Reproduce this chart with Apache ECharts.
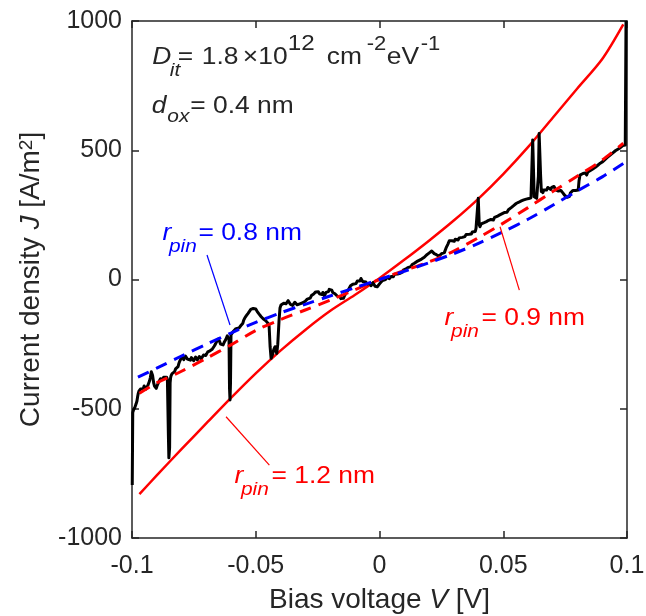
<!DOCTYPE html>
<html>
<head>
<meta charset="utf-8">
<script src="https://cdn.jsdelivr.net/npm/echarts@6/dist/echarts.min.js"></script>
<style>
  html, body { margin: 0; padding: 0; background: #ffffff; }
  #chart { width: 646px; height: 616px; }
</style>
</head>
<body>
<div id="chart"></div>
<script>
const FONT = '"Liberation Sans", Arial, Helvetica, sans-serif';
const INK = '#262626';

// axis ticks
const xTicks = [-0.1, -0.05, 0, 0.05, 0.1];
const yTicks = [-1000, -500, 0, 500, 1000];

// measured J-V trace: [bias voltage (V), current density (A/m^2)]
const measured = [
  [-0.0999,-795],[-0.0997,-515],[-0.0994,-505],[-0.0992,-500],[-0.0989,-496],[-0.0986,-492],
  [-0.0983,-480],[-0.0980,-470],[-0.0977,-452],[-0.0975,-442],[-0.0972,-432],[-0.0970,-428],
  [-0.0966,-424],[-0.0963,-420],[-0.0959,-428],[-0.0955,-424],[-0.0951,-412],[-0.0948,-415],
  [-0.0944,-424],[-0.0940,-420],[-0.0936,-410],[-0.0932,-405],[-0.0929,-392],[-0.0926,-380],
  [-0.0922,-357],[-0.0919,-362],[-0.0917,-370],[-0.0914,-390],[-0.0912,-402],[-0.0909,-412],
  [-0.0906,-418],[-0.0902,-421],[-0.0899,-412],[-0.0896,-405],[-0.0892,-396],[-0.0889,-392],
  [-0.0885,-384],[-0.0882,-382],[-0.0879,-390],[-0.0876,-386],[-0.0872,-378],[-0.0868,-380],
  [-0.0864,-372],[-0.0860,-378],[-0.0857,-386],[-0.0855,-390],[-0.0853,-600],[-0.0851,-690],
  [-0.0848,-650],[-0.0846,-400],[-0.0844,-380],[-0.0842,-372],[-0.0838,-364],[-0.0835,-368],
  [-0.0831,-360],[-0.0828,-357],[-0.0824,-346],[-0.0821,-350],[-0.0817,-340],[-0.0814,-337],
  [-0.0811,-326],[-0.0808,-318],[-0.0804,-310],[-0.0801,-305],[-0.0798,-298],[-0.0795,-302],
  [-0.0791,-310],[-0.0788,-306],[-0.0784,-296],[-0.0780,-299],[-0.0776,-308],[-0.0772,-305],
  [-0.0768,-314],[-0.0764,-312],[-0.0760,-302],[-0.0755,-305],[-0.0751,-314],[-0.0747,-311],
  [-0.0743,-300],[-0.0740,-302],[-0.0736,-311],[-0.0732,-308],[-0.0728,-298],[-0.0724,-296],
  [-0.0720,-306],[-0.0715,-301],[-0.0711,-292],[-0.0706,-299],[-0.0702,-294],[-0.0698,-290],
  [-0.0694,-280],[-0.0690,-285],[-0.0685,-276],[-0.0680,-279],[-0.0676,-270],[-0.0672,-268],
  [-0.0668,-258],[-0.0663,-250],[-0.0658,-240],[-0.0653,-234],[-0.0650,-230],[-0.0646,-240],
  [-0.0642,-250],[-0.0638,-255],[-0.0635,-246],[-0.0632,-253],[-0.0628,-244],[-0.0625,-240],
  [-0.0621,-232],[-0.0618,-228],[-0.0615,-218],[-0.0612,-221],[-0.0608,-232],[-0.0606,-420],
  [-0.0604,-466],[-0.0602,-400],[-0.0600,-215],[-0.0596,-208],[-0.0592,-202],[-0.0588,-206],
  [-0.0584,-200],[-0.0580,-190],[-0.0576,-192],[-0.0572,-196],[-0.0568,-188],[-0.0564,-182],
  [-0.0560,-178],[-0.0556,-172],[-0.0552,-169],[-0.0549,-158],[-0.0545,-150],[-0.0541,-146],
  [-0.0538,-140],[-0.0535,-134],[-0.0531,-131],[-0.0528,-124],[-0.0524,-125],[-0.0520,-116],
  [-0.0517,-118],[-0.0514,-110],[-0.0510,-112],[-0.0507,-106],[-0.0504,-111],[-0.0500,-114],
  [-0.0497,-118],[-0.0494,-124],[-0.0490,-125],[-0.0487,-133],[-0.0484,-138],[-0.0481,-140],
  [-0.0478,-144],[-0.0474,-150],[-0.0470,-152],[-0.0466,-150],[-0.0463,-157],[-0.0459,-160],
  [-0.0455,-164],[-0.0450,-170],[-0.0446,-180],[-0.0442,-260],[-0.0438,-305],[-0.0435,-298],
  [-0.0432,-290],[-0.0427,-270],[-0.0422,-260],[-0.0418,-278],[-0.0415,-286],[-0.0411,-250],
  [-0.0406,-160],[-0.0402,-110],[-0.0398,-99],[-0.0395,-104],[-0.0392,-95],[-0.0387,-92],
  [-0.0382,-86],[-0.0378,-94],[-0.0373,-90],[-0.0369,-82],[-0.0364,-88],[-0.0360,-96],
  [-0.0355,-92],[-0.0351,-100],[-0.0346,-96],[-0.0342,-88],[-0.0337,-90],[-0.0333,-98],
  [-0.0328,-100],[-0.0322,-94],[-0.0315,-99],[-0.0310,-90],[-0.0305,-92],[-0.0300,-84],
  [-0.0296,-85],[-0.0292,-76],[-0.0288,-79],[-0.0284,-70],[-0.0280,-72],[-0.0275,-62],
  [-0.0271,-66],[-0.0266,-56],[-0.0262,-58],[-0.0258,-48],[-0.0254,-52],[-0.0250,-44],
  [-0.0247,-47],[-0.0243,-55],[-0.0240,-51],[-0.0236,-60],[-0.0232,-58],[-0.0229,-50],
  [-0.0226,-55],[-0.0223,-64],[-0.0220,-60],[-0.0216,-50],[-0.0213,-52],[-0.0209,-44],
  [-0.0206,-47],[-0.0203,-38],[-0.0200,-44],[-0.0196,-36],[-0.0193,-41],[-0.0189,-50],
  [-0.0186,-47],[-0.0183,-56],[-0.0180,-55],[-0.0176,-62],[-0.0172,-58],[-0.0169,-66],
  [-0.0166,-60],[-0.0163,-70],[-0.0160,-66],[-0.0156,-74],[-0.0153,-70],[-0.0150,-78],
  [-0.0146,-73],[-0.0142,-64],[-0.0138,-58],[-0.0134,-50],[-0.0130,-44],[-0.0126,-40],
  [-0.0121,-36],[-0.0117,-24],[-0.0112,-28],[-0.0108,-18],[-0.0104,-22],[-0.0100,-12],
  [-0.0095,-16],[-0.0090,-6],[-0.0086,-10],[-0.0082,-2],[-0.0079,-6],[-0.0075,4],
  [-0.0072,-2],[-0.0068,-8],[-0.0064,-5],[-0.0060,-14],[-0.0055,-10],[-0.0050,-18],
  [-0.0046,-12],[-0.0042,-20],[-0.0038,-15],[-0.0034,-24],[-0.0030,-19],[-0.0026,-12],
  [-0.0022,-17],[-0.0018,-26],[-0.0013,-22],[-0.0009,-28],[-0.0005,-21],[0.0004,-12],
  [0.0008,-6],[0.0012,-4],[0.0016,-8],[0.0020,3],[0.0024,0],[0.0028,8],
  [0.0032,4],[0.0036,11],[0.0040,3],[0.0044,6],[0.0047,12],[0.0050,9],
  [0.0053,15],[0.0056,11],[0.0060,20],[0.0064,18],[0.0068,14],[0.0073,21],
  [0.0078,27],[0.0083,24],[0.0087,31],[0.0092,28],[0.0096,36],[0.0101,33],
  [0.0105,40],[0.0110,37],[0.0114,46],[0.0118,44],[0.0122,52],[0.0127,50],
  [0.0132,58],[0.0137,56],[0.0141,63],[0.0146,60],[0.0150,69],[0.0155,66],
  [0.0160,74],[0.0164,70],[0.0170,79],[0.0177,75],[0.0181,86],[0.0186,84],
  [0.0190,95],[0.0195,92],[0.0200,102],[0.0205,99],[0.0211,110],[0.0217,108],
  [0.0221,100],[0.0226,104],[0.0230,96],[0.0235,98],[0.0240,90],[0.0245,93],
  [0.0251,100],[0.0258,95],[0.0262,104],[0.0265,110],[0.0269,122],[0.0272,128],
  [0.0276,136],[0.0279,140],[0.0282,150],[0.0285,146],[0.0289,154],[0.0293,150],
  [0.0297,144],[0.0302,148],[0.0306,156],[0.0310,151],[0.0314,158],[0.0318,153],
  [0.0322,161],[0.0326,158],[0.0330,166],[0.0335,163],[0.0340,170],[0.0345,166],
  [0.0350,174],[0.0354,170],[0.0358,178],[0.0362,175],[0.0366,181],[0.0371,176],
  [0.0375,184],[0.0379,179],[0.0383,190],[0.0387,186],[0.0390,198],[0.0393,196],
  [0.0397,200],[0.0399,314],[0.0401,310],[0.0403,212],[0.0406,204],[0.0408,208],
  [0.0411,215],[0.0413,210],[0.0416,218],[0.0419,211],[0.0423,220],[0.0428,216],
  [0.0432,224],[0.0437,220],[0.0441,229],[0.0446,224],[0.0450,232],[0.0454,227],
  [0.0457,236],[0.0460,230],[0.0465,240],[0.0470,235],[0.0475,244],[0.0480,240],
  [0.0484,249],[0.0487,243],[0.0494,254],[0.0500,250],[0.0504,259],[0.0507,256],
  [0.0511,265],[0.0515,260],[0.0521,270],[0.0527,266],[0.0532,278],[0.0537,275],
  [0.0542,286],[0.0547,283],[0.0552,294],[0.0558,290],[0.0563,299],[0.0568,295],
  [0.0573,304],[0.0578,300],[0.0583,308],[0.0588,303],[0.0593,311],[0.0598,305],
  [0.0603,313],[0.0608,308],[0.0612,316],[0.0615,312],[0.0619,540],[0.0622,546],
  [0.0625,320],[0.0628,316],[0.0632,318],[0.0635,314],[0.0638,320],[0.0642,400],
  [0.0645,565],[0.0648,562],[0.0651,400],[0.0654,340],[0.0657,348],[0.0660,336],
  [0.0664,346],[0.0668,342],[0.0671,352],[0.0675,346],[0.0680,356],[0.0684,350],
  [0.0688,358],[0.0692,348],[0.0696,356],[0.0700,352],[0.0705,360],[0.0709,353],
  [0.0712,347],[0.0716,345],[0.0720,350],[0.0723,342],[0.0727,346],[0.0730,338],
  [0.0733,344],[0.0736,340],[0.0740,336],[0.0744,332],[0.0748,326],[0.0752,322],
  [0.0755,328],[0.0758,318],[0.0761,324],[0.0763,314],[0.0766,320],[0.0768,322],
  [0.0771,334],[0.0774,330],[0.0777,340],[0.0779,336],[0.0781,344],[0.0783,340],
  [0.0788,348],[0.0792,344],[0.0797,350],[0.0803,346],[0.0806,380],[0.0810,404],
  [0.0814,410],[0.0818,402],[0.0822,410],[0.0827,406],[0.0832,412],[0.0837,404],
  [0.0842,416],[0.0847,412],[0.0852,422],[0.0857,418],[0.0862,428],[0.0867,424],
  [0.0872,434],[0.0877,430],[0.0882,442],[0.0887,440],[0.0892,450],[0.0897,446],
  [0.0902,456],[0.0908,452],[0.0913,466],[0.0918,462],[0.0923,474],[0.0928,470],
  [0.0933,482],[0.0938,478],[0.0943,490],[0.0948,486],[0.0953,498],[0.0958,494],
  [0.0963,504],[0.0968,500],[0.0973,510],[0.0978,506],[0.0983,518],[0.0988,514],
  [0.0993,520],[0.0996,1000]
];

// model curve, r_pin = 0.8 nm
const pin08V = [-0.0976, -0.09, -0.08, -0.07, -0.06, -0.05, -0.04, -0.03, -0.02, -0.01, 0,
  0.01, 0.02, 0.03, 0.04, 0.05, 0.06, 0.07, 0.08, 0.09, 0.0985];
const pin08J = [-378, -343, -296, -251, -207, -166, -129, -96, -64, -32, 0,
  32, 65, 100, 140, 185, 233, 287, 343, 397, 449];

// model curve, r_pin = 0.9 nm
const pin09V = [-0.097, -0.09, -0.08, -0.07, -0.06, -0.05, -0.04, -0.03, -0.02, -0.01, 0,
  0.01, 0.02, 0.03, 0.04, 0.05, 0.06, 0.07, 0.08, 0.09, 0.0985];
const pin09J = [-440, -400, -355, -305, -253, -197, -155, -118, -80, -40, 0,
  35, 68, 110, 162, 218, 278, 340, 400, 462, 527];

// model curve, r_pin = 1.2 nm
const pin12V = [-0.097, -0.09, -0.08, -0.07, -0.06, -0.05, -0.04, -0.03, -0.02, -0.01, 0,
  0.01, 0.02, 0.03, 0.04, 0.05, 0.06, 0.07, 0.08, 0.09, 0.0985];
const pin12J = [-830, -758, -656, -557, -458, -363, -275, -195, -122, -60, 5,
  76, 150, 228, 313, 408, 512, 626, 740, 853, 987];

const zip = (xs, ys) => xs.map((x, i) => [x, ys[i]]);

const chart = echarts.init(document.getElementById('chart'), null, { renderer: 'canvas' });

const axisLine = { show: true, onZero: false, lineStyle: { color: INK, width: 1.5 } };
const axisTick = { show: true, inside: true, length: 7, lineStyle: { color: INK, width: 1.5 } };

const xBase = {
  type: 'value',
  min: xTicks[0],
  max: xTicks[xTicks.length - 1],
  interval: xTicks[1] - xTicks[0],
  axisLine, axisTick,
  splitLine: { show: false }
};
const yBase = {
  type: 'value',
  min: yTicks[0],
  max: yTicks[yTicks.length - 1],
  interval: yTicks[1] - yTicks[0],
  axisLine, axisTick,
  splitLine: { show: false }
};

function lineSeries(name, data, color, width, dash, z, smooth) {
  return {
    name, type: 'line', data,
    symbol: 'none', showSymbol: false, silent: true, z,
    smooth: smooth || false,
    lineStyle: { color, width, type: dash || 'solid', join: 'round', cap: 'butt' }
  };
}

chart.setOption({
  animation: false,
  grid: { left: 132, right: 19, top: 21, bottom: 78, outerBoundsMode: 'none' },
  xAxis: [
    Object.assign({}, xBase, {
      position: 'bottom',
      axisLabel: {
        show: true, margin: 16, color: INK, fontSize: 25, fontFamily: FONT,
        formatter: v => String(Math.round(v * 1000) / 1000)
      },
      name: 'Bias voltage {i|V} [V]',
      nameLocation: 'middle',
      nameGap: 48,
      nameTextStyle: {
        color: INK, fontSize: 28, fontFamily: FONT,
        rich: { i: { color: INK, fontSize: 28, fontFamily: FONT, fontStyle: 'italic' } }
      }
    }),
    Object.assign({}, xBase, { position: 'top', axisLabel: { show: false } })
  ],
  yAxis: [
    Object.assign({}, yBase, {
      position: 'left',
      axisLabel: {
        show: true, margin: 10, color: INK, fontSize: 25, fontFamily: FONT,
        formatter: v => String(Math.round(v))
      },
      name: 'Current density {i|J} [A/m{s|2}]',
      nameLocation: 'middle',
      nameGap: 86,
      nameTextStyle: {
        color: INK, fontSize: 28, fontFamily: FONT,
        rich: {
          i: { color: INK, fontSize: 28, fontFamily: FONT, fontStyle: 'italic' },
          s: { color: INK, fontSize: 19, fontFamily: FONT, padding: [0, 0, 10, 0] }
        }
      }
    }),
    Object.assign({}, yBase, { position: 'right', axisLabel: { show: false } })
  ],
  series: [
    lineSeries('r_pin = 1.2 nm', zip(pin12V, pin12J), '#ff0000', 2.5, null, 2, 0.3),
    lineSeries('measured', measured, '#000000', 3, null, 3),
    lineSeries('r_pin = 0.9 nm', zip(pin09V, pin09J), '#ff0000', 3, [12, 8], 4, 0.3),
    lineSeries('r_pin = 0.8 nm', zip(pin08V, pin08J), '#0000ff', 3, [12, 8], 5, 0.3)
  ]
});

// ---- annotations: labels with sub/superscripts plus leader lines ----
const TEXT_SCALE_X = 1.1;
const BASE = 24, SUB = 19, SUP = 20;

// parts: [text, fontSize, italic, dx (px from anchor), dy (baseline shift, px)]
const annotations = [
  { at: [-0.0916, 827], color: INK, parts: [
    ['D', BASE, true, -0.5, 0], ['it', SUB, true, 17, 12], ['=', BASE, false, 25, 0],
    ['1.8', BASE, false, 49, 0], ['\u00d7', BASE, false, 90, 0], ['10', BASE, false, 105.5, 0],
    ['12', 22, false, 135, -14], ['cm', BASE, false, 174, 0], ['-2', SUP, false, 214, -14],
    ['eV', BASE, false, 234, 0], ['-1', SUP, false, 268, -14]
  ] },
  { at: [-0.0916, 639], color: INK, parts: [
    ['d', BASE, true, -1, 0], ['ox', SUB, true, 14.5, 9], ['= 0.4 nm', BASE, false, 37.5, 0]
  ] },
  { at: [-0.0875, 145], color: '#0000ff', parts: [
    ['r', BASE, true, -0.5, 0], ['pin', SUB, true, 6, 11], ['= 0.8 nm', BASE, false, 35.5, 0]
  ] },
  { at: [0.0265, -184], color: '#ff0000', parts: [
    ['r', BASE, true, -0.5, 0], ['pin', SUB, true, 6, 11], ['= 0.9 nm', BASE, false, 36.5, 0]
  ] },
  { at: [-0.0584, -795], color: '#ff0000', parts: [
    ['r', BASE, true, -0.5, 0], ['pin', SUB, true, 6, 11], ['= 1.2 nm', BASE, false, 36.5, 0]
  ] }
];

// leader lines from each r_pin label to its curve, in data coordinates
const leaders = [
  { from: [-0.0697, 95], to: [-0.0604, -176], color: '#0000ff' },
  { from: [0.0487, 204], to: [0.0565, -41], color: '#ff0000' },
  { from: [-0.0620, -531], to: [-0.0445, -718], color: '#ff0000' }
];

const toPx = p => chart.convertToPixel({ gridIndex: 0 }, p);
const graphics = [];

annotations.forEach(a => {
  const [ax, ay] = toPx(a.at);
  a.parts.forEach(([t, size, italic, dx, dy]) => {
    graphics.push({
      type: 'text', silent: true, z: 100,
      x: ax + dx, y: ay + dy - 0.3465 * size,
      scaleX: TEXT_SCALE_X, scaleY: 1,
      style: {
        text: t, fill: a.color, fontSize: size, fontFamily: FONT,
        fontStyle: italic ? 'italic' : 'normal',
        align: 'left', verticalAlign: 'middle'
      }
    });
  });
});

leaders.forEach(l => {
  const [x1, y1] = toPx(l.from);
  const [x2, y2] = toPx(l.to);
  graphics.push({
    type: 'line', silent: true, z: 100,
    shape: { x1, y1, x2, y2 },
    style: { stroke: l.color, lineWidth: 1.2 }
  });
});

chart.setOption({ graphic: graphics });
</script>
</body>
</html>
